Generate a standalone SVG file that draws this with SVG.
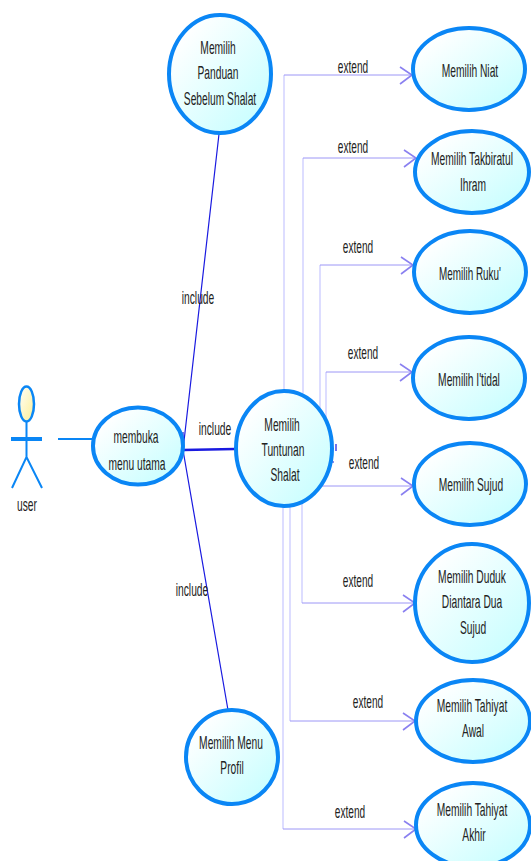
<svg xmlns="http://www.w3.org/2000/svg" width="531" height="861" viewBox="0 0 531 861">
<style>
text{font-family:"Liberation Sans",Arial,sans-serif;font-size:18px;fill:#222;text-anchor:middle}
.uc{fill:url(#g);stroke:#0a86f5;stroke-width:4}
.ext{fill:none;stroke:#9c96f6;stroke-width:1}
.pale{fill:none;stroke:#d2d2ff;stroke-width:1.500}
.head{fill:none;stroke:#8a80f0;stroke-width:1.600}
.inc{fill:none;stroke:#1a1ae0;stroke-width:1.200}
.act{fill:none;stroke:#0a86f5;stroke-width:2}
</style>
<defs>
<linearGradient id="g" x1="0" y1="0" x2="1" y2="1"><stop offset="0.15" stop-color="#ffffff"/><stop offset="0.9" stop-color="#c8feff"/></linearGradient>
<linearGradient id="h" x1="0" y1="0" x2="1" y2="1"><stop offset="0" stop-color="#ffffff"/><stop offset="0.8" stop-color="#fdf2a8"/></linearGradient>
<polyline id="ah" class="head" points="-12,-8 0,0 -12,9"/>
</defs>
<rect width="531" height="861" fill="#ffffff"/>
<g id="connectors">
<path class="act" d="M58 439H92"/>
<path class="inc" d="M183 450L219 134M183 450L228 710"/>
<path class="inc" d="M183 450L235 449" style="stroke-width:2.400"/>
<path class="inc" d="M183 432v5M336 444v7M331 462h3"/>
<path class="pale" d="M284 390V75M303 393V158M320 408V265M326 420V372M302 500V603M290 505V721M283 507V829"/>
<path class="ext" d="M284 75H411M303 158H416M320 265H413M326 372H412M322 486H413M302 603H415M290 721H415M283 829H416"/>
<use href="#ah" x="412" y="75"/>
<use href="#ah" x="416" y="158"/>
<use href="#ah" x="413" y="265"/>
<use href="#ah" x="412" y="372"/>
<use href="#ah" x="413" y="486"/>
<use href="#ah" x="415" y="603"/>
<use href="#ah" x="415" y="721"/>
<use href="#ah" x="416" y="829"/>
<text transform="translate(353,73) scale(.56,1)">extend</text>
<text transform="translate(353,153) scale(.56,1)">extend</text>
<text transform="translate(358,253) scale(.56,1)">extend</text>
<text transform="translate(363,359) scale(.56,1)">extend</text>
<text transform="translate(364,469) scale(.56,1)">extend</text>
<text transform="translate(358,587) scale(.56,1)">extend</text>
<text transform="translate(368,708) scale(.56,1)">extend</text>
<text transform="translate(350,818) scale(.56,1)">extend</text>
<text transform="translate(198,304) scale(.57,1)">include</text>
<text transform="translate(215,435) scale(.57,1)">include</text>
<text transform="translate(192,596) scale(.57,1)">include</text>
</g>
<g id="user">
<ellipse cx="26.500" cy="404" rx="7.500" ry="17.500" fill="url(#h)" stroke="#0a86f5" stroke-width="2.500"/>
<path class="act" d="M26.500 421V457M12 488L26.500 457L42 488"/>
<path class="act" d="M11 439H42" style="stroke-width:4"/>
<text transform="translate(27,511) scale(.57,1)">user</text>
</g>
<g id="membuka">
<ellipse class="uc" cx="138" cy="446" rx="45" ry="38.500"/>
<text transform="translate(136,443) scale(.57,1)">membuka</text>
<text transform="translate(137,470) scale(.57,1)">menu utama</text>
</g>
<g id="panduan">
<ellipse class="uc" cx="220" cy="74" rx="51" ry="59"/>
<text transform="translate(218,54) scale(.57,1)">Memilih</text>
<text transform="translate(218,79) scale(.57,1)">Panduan</text>
<text transform="translate(220,105) scale(.57,1)">Sebelum Shalat</text>
</g>
<g id="tuntunan">
<ellipse class="uc" cx="284" cy="448.500" rx="48" ry="57.500"/>
<text transform="translate(282,431) scale(.57,1)">Memilih</text>
<text transform="translate(283,456) scale(.57,1)">Tuntunan</text>
<text transform="translate(285,481) scale(.57,1)">Shalat</text>
</g>
<g id="profil">
<ellipse class="uc" cx="232" cy="757" rx="46" ry="47"/>
<text transform="translate(231,749) scale(.57,1)">Memilih Menu</text>
<text transform="translate(232,774) scale(.57,1)">Profil</text>
</g>
<g id="niat">
<ellipse class="uc" cx="469" cy="69" rx="56" ry="41"/>
<text transform="translate(470,77) scale(.57,1)">Memilih Niat</text>
</g>
<g id="takbiratul">
<ellipse class="uc" cx="472" cy="172" rx="57" ry="41"/>
<text transform="translate(472,165) scale(.57,1)">Memilih Takbiratul</text>
<text transform="translate(473,191) scale(.57,1)">Ihram</text>
</g>
<g id="ruku">
<ellipse class="uc" cx="470" cy="272" rx="56" ry="41"/>
<text transform="translate(470,280) scale(.55,1)">Memilih Ruku'</text>
</g>
<g id="itidal">
<ellipse class="uc" cx="469" cy="378" rx="56" ry="41"/>
<text transform="translate(469,386) scale(.57,1)">Memilih I'tidal</text>
</g>
<g id="sujud">
<ellipse class="uc" cx="470" cy="484" rx="56" ry="41"/>
<text transform="translate(471,491) scale(.57,1)">Memilih Sujud</text>
</g>
<g id="duduk">
<ellipse class="uc" cx="472" cy="603" rx="57" ry="59"/>
<text transform="translate(472,583) scale(.57,1)">Memilih Duduk</text>
<text transform="translate(472,608) scale(.57,1)">Diantara Dua</text>
<text transform="translate(473,634) scale(.57,1)">Sujud</text>
</g>
<g id="awal">
<ellipse class="uc" cx="473" cy="721" rx="57" ry="41"/>
<text transform="translate(472,712) scale(.57,1)">Memilih Tahiyat</text>
<text transform="translate(473,737) scale(.57,1)">Awal</text>
</g>
<g id="akhir">
<ellipse class="uc" cx="473" cy="825" rx="57" ry="42"/>
<text transform="translate(472,816) scale(.57,1)">Memilih Tahiyat</text>
<text transform="translate(474,841) scale(.57,1)">Akhir</text>
</g>
</svg>
